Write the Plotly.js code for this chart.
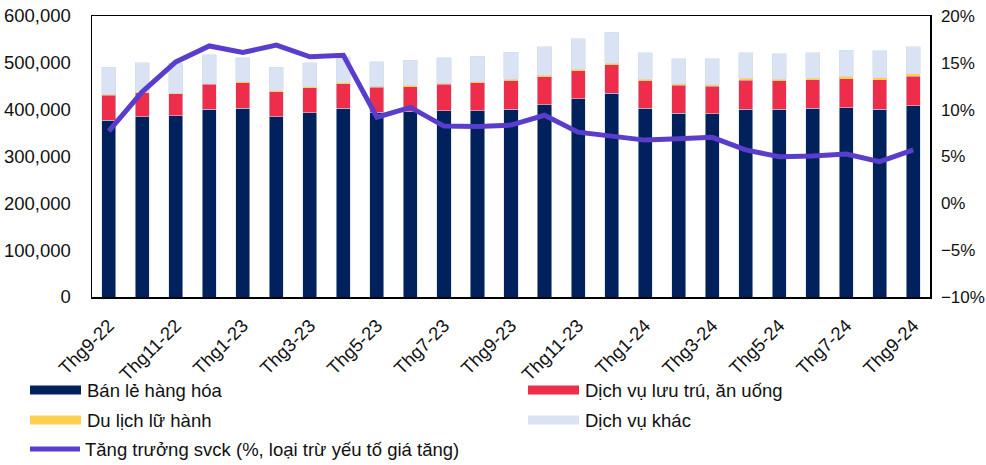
<!DOCTYPE html>
<html>
<head>
<meta charset="utf-8">
<script src="https://cdn.plot.ly/plotly-3.0.1.min.js"></script>
<style>html,body{margin:0;padding:0;background:#fff;}#chart{width:986px;height:465px;}</style>
</head>
<body>
<div id="chart"></div>
<script>
// Categories (months)
const months = ["Thg9-22","Thg10-22","Thg11-22","Thg12-22","Thg1-23","Thg2-23","Thg3-23","Thg4-23","Thg5-23","Thg6-23","Thg7-23","Thg8-23","Thg9-23","Thg10-23","Thg11-23","Thg12-23","Thg1-24","Thg2-24","Thg3-24","Thg4-24","Thg5-24","Thg6-24","Thg7-24","Thg8-24","Thg9-24"];
const tickMonths = ["Thg9-22","Thg11-22","Thg1-23","Thg3-23","Thg5-23","Thg7-23","Thg9-23","Thg11-23","Thg1-24","Thg3-24","Thg5-24","Thg7-24","Thg9-24"];

// Series names
const nameRetail = "Bán lẻ hàng hóa";
const nameFood = "Dịch vụ lưu trú, ăn uống";
const nameTravel = "Du lịch lữ hành";
const nameOther = "Dịch vụ khác";
const nameGrowth = "Tăng trưởng svck (%, loại trừ yếu tố giá tăng)";

// Values
const retail = [377000,385000,387000,400800,403000,385000,393600,403000,394000,395700,397800,398000,401000,411000,423400,435000,403000,392000,391000,401000,401000,403000,404000,401000,408500];
const food = [53500,50700,46500,53000,54600,53400,53400,52500,53800,53500,56200,59000,61000,59800,59800,60400,59000,59700,59000,62000,61000,60400,62000,63000,62800];
const travel = [2000,2000,1800,2000,2200,1500,1500,2000,2300,2500,2300,2500,2800,3000,3500,3600,2700,3300,3200,3800,2800,4000,5000,4000,5000];
const other = [58500,62300,63700,61000,51200,50600,51500,55500,51700,53600,54100,54500,58200,60700,64300,66000,57000,53200,55000,54900,54100,54300,56400,57300,58200];
const growth = [7.7,11.9,15.1,16.8,16.1,16.9,15.65,15.8,9.2,10.25,8.25,8.2,8.35,9.4,7.6,7.2,6.75,6.9,7.05,5.7,4.98,5.05,5.26,4.45,5.7];

const cNavy = "#00215C", cRed = "#EE2D4B", cYellow = "#FFD050", cLight = "#DAE3F3", cLine = "#5A3DCB";
const FONT = "Liberation Sans, Arial, sans-serif";
const edge = {color: "rgba(210,218,235,0.7)", width: 0.8};

const traces = [
  {type:"bar", name:nameRetail, x:months, y:retail, marker:{color:cNavy, line:edge}, showlegend:false},
  {type:"bar", name:nameFood, x:months, y:food, marker:{color:cRed, line:edge}, showlegend:false},
  {type:"bar", name:nameTravel, x:months, y:travel, marker:{color:cYellow, line:{width:0}}, showlegend:false},
  {type:"bar", name:nameOther, x:months, y:other, marker:{color:cLight, line:edge}, showlegend:false},
  {type:"scatter", mode:"lines", name:nameGrowth, x:months, y:growth, yaxis:"y2", line:{color:cLine, width:5}, showlegend:false}
];

// Custom legend (wide swatches like the reference)
const PL = 92, PW = 838, PT = 16, PH = 281;
const px = v => (v - PL) / PW;
const py = v => (PT + PH - v) / PH;
const legendItems = [
  {name:nameRetail, color:cNavy, kind:"bar", x:30, y:390},
  {name:nameFood, color:cRed, kind:"bar", x:528, y:390},
  {name:nameTravel, color:cYellow, kind:"bar", x:30, y:420},
  {name:nameOther, color:cLight, kind:"bar", x:528, y:420},
  {name:nameGrowth, color:cLine, kind:"line", x:28, y:449}
];
const shapes = [], annotations = [];
legendItems.forEach(it => {
  if (it.kind === "bar") {
    shapes.push({type:"rect", xref:"paper", yref:"paper", x0:px(it.x), x1:px(it.x+51), y0:py(it.y+4.5), y1:py(it.y-4.5), fillcolor:it.color, line:{width:0}});
  } else {
    shapes.push({type:"line", xref:"paper", yref:"paper", x0:px(it.x+2), x1:px(it.x+52), y0:py(it.y), y1:py(it.y), line:{color:it.color, width:5}});
  }
  annotations.push({xref:"paper", yref:"paper", x:px(it.x+55), y:py(it.y), xanchor:"left", yanchor:"middle", showarrow:false, text:it.name, font:{family:FONT, size:18.5, color:"#111"}});
});

const layout = {
  width:986, height:465,
  margin:{l:92, r:56, t:16, b:168, pad:0},
  paper_bgcolor:"#fff", plot_bgcolor:"#fff",
  barmode:"stack", bargap:0.58,
  font:{family:FONT, size:18.5, color:"#111"},
  xaxis:{type:"category", tickvals:tickMonths, ticktext:tickMonths, tickangle:-45, ticks:"", ticklabelstandoff:9, showline:true, linecolor:"#000", linewidth:1.5, mirror:true, showgrid:false, zeroline:false, range:[-0.5, 24.5], tickfont:{size:18.5, family:FONT, color:"#111"}},
  yaxis:{range:[0,600000], dtick:100000, tickformat:",d", ticks:"", ticklabelstandoff:16, showline:true, linecolor:"#000", linewidth:1.5, mirror:true, showgrid:false, zeroline:false},
  yaxis2:{overlaying:"y", side:"right", range:[-10,20], dtick:5, ticksuffix:"%", ticks:"", ticklabelstandoff:6, showline:true, linecolor:"#000", linewidth:1.5, showgrid:false, zeroline:false, tickfont:{size:17, family:FONT, color:"#111"}},
  showlegend:false,
  shapes:shapes, annotations:annotations
};

Plotly.newPlot("chart", traces, layout, {staticPlot:true, displayModeBar:false});
</script>
</body>
</html>
